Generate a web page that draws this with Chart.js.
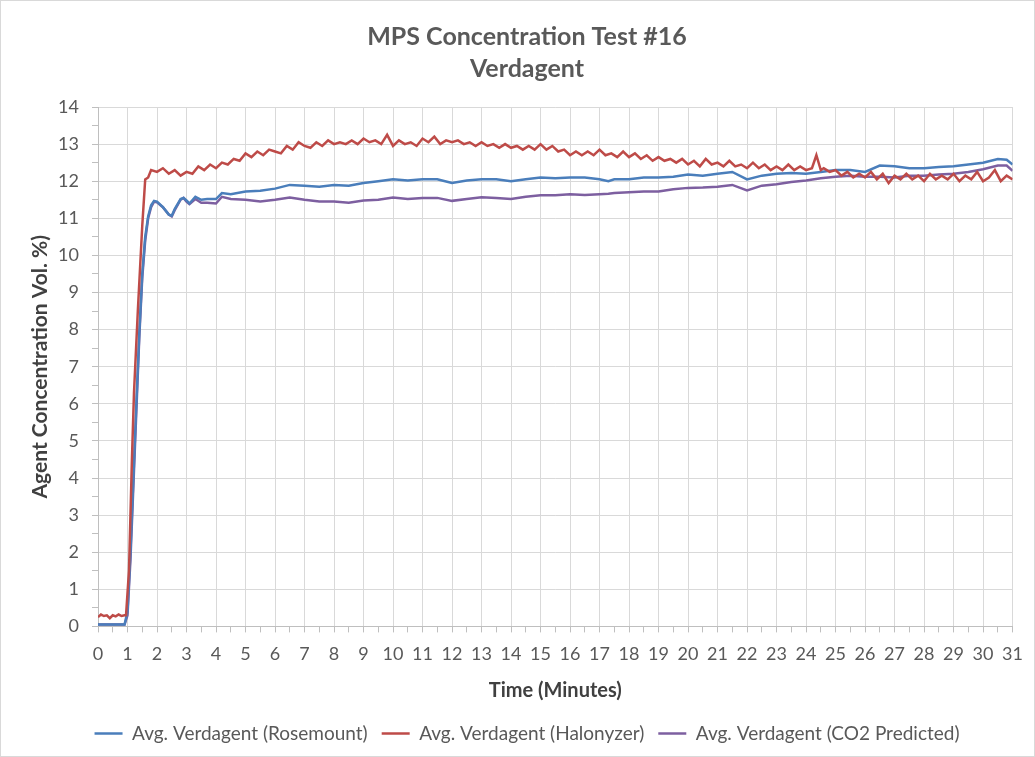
<!DOCTYPE html>
<html>
<head>
<meta charset="utf-8">
<title>MPS Concentration Test #16 - Verdagent</title>
<script src="https://cdn.jsdelivr.net/npm/chart.js@4.4.1/dist/chart.umd.min.js"></script>
<style>
  html, body { margin: 0; padding: 0; background: #fff; }
  #wrap { position: relative; width: 1033px; height: 755px; border: 1px solid #d9d9d9; }
</style>
</head>
<body>
<div id="wrap"><canvas id="chart"></canvas></div>
<script>
'use strict';

/* ── Data (minutes → vol. %) ────────────────────────────────────────────── */
const rosemountTime = [0, 0.5, 0.9, 1.0, 1.1, 1.2, 1.3, 1.4, 1.5, 1.6, 1.7, 1.8, 1.9, 2.0, 2.2, 2.4, 2.5, 2.6, 2.8, 2.9, 3.0, 3.1, 3.3, 3.5, 3.7, 4.0, 4.2, 4.5, 5.0, 5.5, 6.0, 6.5, 7.0, 7.5, 8.0, 8.5, 9.0, 9.5, 10.0, 10.5, 11.0, 11.5, 12.0, 12.5, 13.0, 13.5, 14.0, 14.5, 15.0, 15.5, 16.0, 16.5, 17.0, 17.3, 17.5, 18.0, 18.5, 19.0, 19.5, 20.0, 20.5, 21.0, 21.5, 22.0, 22.5, 23.0, 23.5, 24.0, 24.5, 25.0, 25.5, 26.0, 26.5, 27.0, 27.5, 28.0, 28.5, 29.0, 29.5, 30.0, 30.5, 30.8, 31.0];
const rosemount     = [0.05, 0.05, 0.05, 0.4, 2.0, 4.0, 6.0, 7.9, 9.5, 10.5, 11.05, 11.35, 11.47, 11.45, 11.3, 11.1, 11.07, 11.25, 11.52, 11.55, 11.48, 11.4, 11.58, 11.5, 11.52, 11.52, 11.68, 11.65, 11.72, 11.74, 11.8, 11.9, 11.88, 11.85, 11.9, 11.88, 11.95, 12.0, 12.05, 12.02, 12.05, 12.05, 11.95, 12.02, 12.05, 12.05, 12.0, 12.05, 12.1, 12.08, 12.1, 12.1, 12.05, 12.0, 12.05, 12.05, 12.1, 12.1, 12.12, 12.18, 12.15, 12.2, 12.25, 12.05, 12.15, 12.2, 12.22, 12.2, 12.25, 12.3, 12.3, 12.25, 12.42, 12.4, 12.35, 12.35, 12.38, 12.4, 12.45, 12.5, 12.6, 12.58, 12.45];

const co2Time = rosemountTime;
const co2Predicted  = [0.05, 0.05, 0.05, 0.3, 1.8, 3.8, 5.8, 7.8, 9.4, 10.4, 11.0, 11.3, 11.45, 11.43, 11.3, 11.1, 11.05, 11.22, 11.5, 11.55, 11.45, 11.38, 11.52, 11.42, 11.42, 11.4, 11.58, 11.52, 11.5, 11.45, 11.5, 11.56, 11.5, 11.45, 11.45, 11.42, 11.48, 11.5, 11.56, 11.52, 11.55, 11.55, 11.47, 11.52, 11.57, 11.55, 11.52, 11.58, 11.62, 11.62, 11.65, 11.63, 11.65, 11.66, 11.68, 11.7, 11.72, 11.72, 11.78, 11.82, 11.83, 11.85, 11.9, 11.75, 11.88, 11.92, 11.98, 12.02, 12.08, 12.12, 12.15, 12.12, 12.12, 12.1, 12.15, 12.15, 12.18, 12.2, 12.25, 12.32, 12.42, 12.42, 12.28];

const halonyzerTime = [0, 0.1, 0.2, 0.3, 0.4, 0.5, 0.6, 0.7, 0.8, 0.9, 0.95, 1.05, 1.15, 1.22, 1.35, 1.5, 1.6, 1.7,
  1.8, 2.0, 2.2, 2.4, 2.6, 2.8, 3.0, 3.2, 3.4, 3.6, 3.8, 4.0, 4.2, 4.4, 4.6, 4.8, 5.0, 5.2, 5.4, 5.6, 5.8, 6.0,
  6.2, 6.4, 6.6, 6.8, 7.0, 7.2, 7.4, 7.6, 7.8, 8.0, 8.2, 8.4, 8.6, 8.8, 9.0, 9.2, 9.4, 9.6, 9.8, 10.0,
  10.2, 10.4, 10.6, 10.8, 11.0, 11.2, 11.4, 11.6, 11.8, 12.0, 12.2, 12.4, 12.6, 12.8, 13.0, 13.2, 13.4, 13.6, 13.8, 14.0,
  14.2, 14.4, 14.6, 14.8, 15.0, 15.2, 15.4, 15.6, 15.8, 16.0, 16.2, 16.4, 16.6, 16.8, 17.0, 17.2, 17.4, 17.6, 17.8, 18.0,
  18.2, 18.4, 18.6, 18.8, 19.0, 19.2, 19.4, 19.6, 19.8, 20.0, 20.2, 20.4, 20.6, 20.8, 21.0, 21.2, 21.4, 21.6, 21.8, 22.0,
  22.2, 22.4, 22.6, 22.8, 23.0, 23.2, 23.4, 23.6, 23.8, 24.0, 24.2, 24.35, 24.5, 24.6, 24.8, 25.0, 25.2, 25.4, 25.6, 25.8,
  26.0, 26.2, 26.4, 26.6, 26.8, 27.0, 27.2, 27.4, 27.6, 27.8, 28.0, 28.2, 28.4, 28.6, 28.8, 29.0, 29.2, 29.4, 29.6, 29.8,
  30.0, 30.2, 30.4, 30.6, 30.8, 31.0];
const halonyzer     = [0.25, 0.32, 0.28, 0.3, 0.22, 0.3, 0.27, 0.32, 0.28, 0.3, 0.3, 1.5, 4.5, 6.3, 8.5, 10.8, 12.05, 12.1,
  12.3, 12.25, 12.35, 12.2, 12.3, 12.15, 12.25, 12.2, 12.4, 12.3, 12.45, 12.35, 12.5, 12.45, 12.6, 12.55, 12.75, 12.65, 12.8, 12.7, 12.85, 12.8,
  12.75, 12.95, 12.85, 13.05, 12.95, 12.9, 13.05, 12.95, 13.1, 13.0, 13.05, 13.0, 13.1, 13.0, 13.15, 13.05, 13.1, 13.0, 13.25, 12.95,
  13.1, 13.0, 13.05, 12.95, 13.15, 13.05, 13.2, 13.0, 13.1, 13.05, 13.1, 13.0, 13.05, 12.95, 13.05, 12.95, 13.0, 12.9, 13.0, 12.9,
  12.95, 12.85, 12.95, 12.85, 13.0, 12.85, 12.95, 12.8, 12.85, 12.7, 12.8, 12.7, 12.8, 12.7, 12.85, 12.7, 12.75, 12.65, 12.8, 12.65,
  12.75, 12.6, 12.7, 12.55, 12.65, 12.55, 12.6, 12.5, 12.6, 12.45, 12.55, 12.4, 12.6, 12.45, 12.5, 12.4, 12.55, 12.4, 12.45, 12.35,
  12.5, 12.35, 12.45, 12.3, 12.4, 12.3, 12.45, 12.3, 12.4, 12.3, 12.35, 12.7, 12.3, 12.35, 12.25, 12.3, 12.15, 12.25, 12.1, 12.2,
  12.1, 12.25, 12.05, 12.2, 11.95, 12.15, 12.05, 12.2, 12.05, 12.15, 12.0, 12.2, 12.05, 12.15, 12.05, 12.2, 12.0, 12.15, 12.05, 12.25,
  12.0, 12.1, 12.3, 12.0, 12.15, 12.05];

const seriesLabels = ['Avg. Verdagent (Rosemount)', 'Avg. Verdagent (Halonyzer)', 'Avg. Verdagent (CO2 Predicted)'];

/* ── Helpers ─────────────────────────────────────────────────────────────── */
const _pts = (xs, ys) => ys.map((y, i) => ({ x: xs[i], y }));
const _font = 'Lato, "Open Sans", sans-serif';
const _isMajor = v => Math.abs(v - Math.round(v)) < 1e-6;

const _axis = (min, max, title, tickPad, titlePad, titleSize) => ({
  type: 'linear',
  min, max,
  border: { display: true, color: '#bfbfbf', width: 1 },
  grid: {
    color: ctx => _isMajor(ctx.tick.value) ? '#d9d9d9' : 'rgba(0,0,0,0)',
    tickColor: '#bfbfbf',
    tickLength: 6,
    lineWidth: 1,
  },
  ticks: {
    stepSize: 0.5,
    autoSkip: false,
    maxRotation: 0,
    padding: tickPad,
    color: '#595959',
    font: { family: _font, size: 18 },
    callback: v => _isMajor(v) ? String(Math.round(v)) : '',
  },
  title: {
    display: true,
    text: title,
    color: '#404040',
    padding: titlePad,
    font: { family: _font, size: titleSize, weight: 'bold' },
  },
});

const _ds = (label, xs, ys, colour) => ({
  label,
  data: _pts(xs, ys),
  borderColor: colour,
  backgroundColor: colour,
  borderWidth: 2.5,
});

new Chart(document.getElementById('chart'), {
  type: 'line',
  data: {
    datasets: [
      { ..._ds(seriesLabels[0], rosemountTime, rosemount, '#4a7ebb'), order: 2 },
      { ..._ds(seriesLabels[1], halonyzerTime, halonyzer, '#be4b48'), order: 1 },
      { ..._ds(seriesLabels[2], co2Time, co2Predicted, '#7d5fa0'), order: 3 },
    ],
  },
  options: {
    responsive: true,
    maintainAspectRatio: false,
    animation: false,
    elements: {
      line: { tension: 0, fill: false },
      point: { radius: 0, hoverRadius: 0 },
    },
    layout: { padding: { left: 27, right: 8, top: 4, bottom: 3 } },
    plugins: {
      title: {
        display: true,
        text: ['MPS Concentration Test #16', 'Verdagent'],
        color: '#595959',
        font: { family: _font, size: 25, weight: 'bold', lineHeight: 1.28 },
        padding: { top: 16, bottom: 22 },
      },
      legend: {
        position: 'bottom',
        labels: {
          color: '#595959',
          font: { family: _font, size: 19 },
          usePointStyle: true,
          pointStyle: 'line',
          pointStyleWidth: 28,
          padding: 14,
          sort: (a, b) => a.datasetIndex - b.datasetIndex,
        },
      },
      tooltip: { enabled: false },
    },
    scales: {
      x: _axis(0, 31, 'Time (Minutes)', 11, { top: 3, bottom: 7 }, 20),
      y: { ..._axis(0, 14, 'Agent Concentration Vol. %)', 13, 0, 21), afterFit: s => { s.width = 70; } },
    },
  },
});
</script>
</body>
</html>
